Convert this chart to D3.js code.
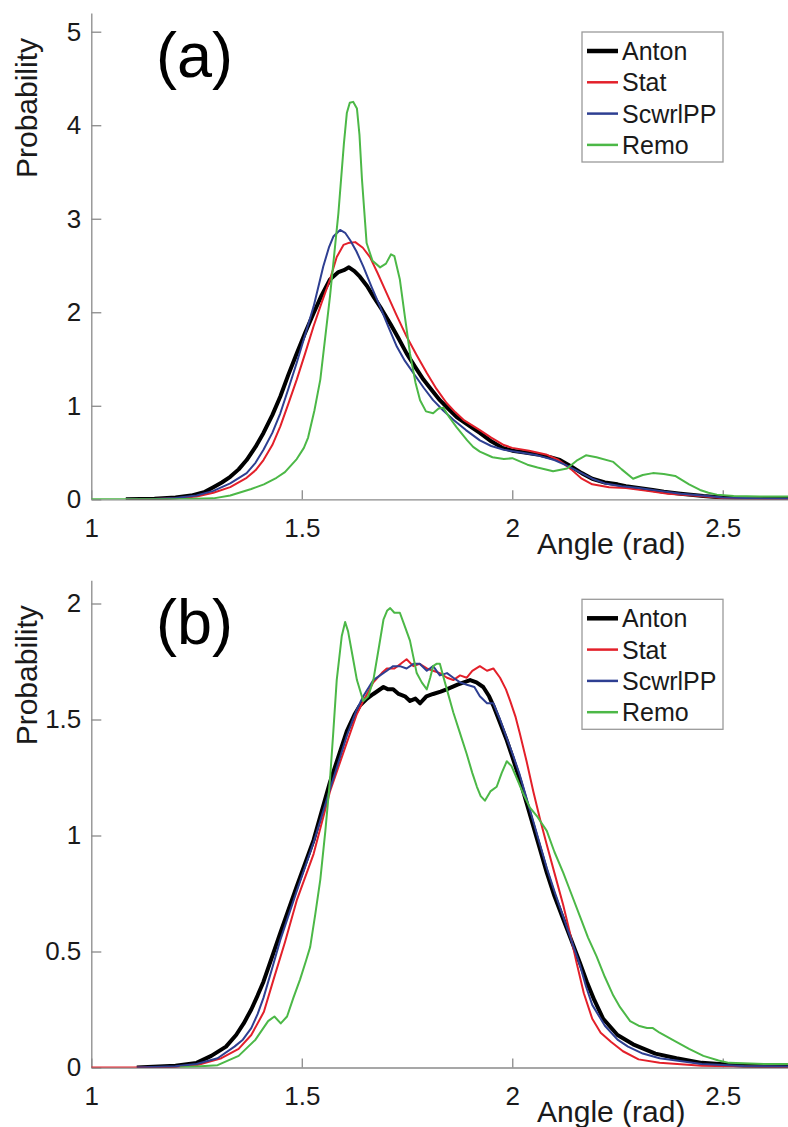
<!DOCTYPE html>
<html>
<head>
<meta charset="utf-8">
<script src="https://cdn.jsdelivr.net/npm/d3@7"></script>
<style>
  body { margin: 0; background: #fff; }
  svg { display: block; font-family: "Liberation Sans", Arial, sans-serif; }
</style>
</head>
<body>
<div id="chart"></div>
<script>
// series names + colours
const names = ["Anton", "Stat", "ScwrlPP", "Remo"]
const colors = ["#000000", "#e3202a", "#2e3f92", "#4cb847"]
const widths = [4, 2, 2, 2]

const xTicks = [1, 1.5, 2, 2.5]
const yTicksA = [0, 1, 2, 3, 4, 5]
const yTicksB = [0, 0.5, 1, 1.5, 2]

// panel (a) : [angle, probability]
const antonA = [[1.082,0],[1.15,0.005],[1.2,0.02],[1.237,0.04],[1.27,0.08],[1.29,0.13],[1.31,0.18],[1.33,0.24],[1.35,0.32],[1.369,0.42],[1.39,0.56],[1.409,0.71],[1.43,0.9],[1.449,1.10],[1.468,1.33],[1.488,1.56],[1.508,1.78],[1.528,1.99],[1.547,2.18],[1.567,2.35],[1.587,2.43],[1.600,2.45],[1.612,2.48],[1.625,2.44],[1.638,2.38],[1.655,2.28],[1.67,2.17],[1.69,2.03],[1.71,1.88],[1.73,1.72],[1.749,1.56],[1.77,1.41],[1.789,1.28],[1.81,1.16],[1.828,1.06],[1.85,0.96],[1.868,0.88],[1.9,0.78],[1.923,0.71],[1.95,0.62],[1.977,0.55],[2.0,0.52],[2.03,0.50],[2.06,0.48],[2.09,0.45],[2.113,0.42],[2.14,0.35],[2.165,0.28],[2.19,0.22],[2.22,0.18],[2.25,0.16],[2.27,0.14],[2.3,0.12],[2.334,0.10],[2.36,0.08],[2.4,0.06],[2.454,0.035],[2.5,0.02],[2.55,0.01],[2.6,0.005],[2.66,0.003]]
const statA = [[1.082,0],[1.15,0.003],[1.2,0.01],[1.25,0.03],[1.29,0.07],[1.33,0.13],[1.369,0.23],[1.39,0.31],[1.409,0.42],[1.43,0.58],[1.449,0.78],[1.468,1.02],[1.488,1.28],[1.508,1.56],[1.528,1.85],[1.547,2.10],[1.567,2.35],[1.583,2.59],[1.599,2.72],[1.61,2.74],[1.627,2.75],[1.645,2.69],[1.662,2.59],[1.68,2.42],[1.702,2.20],[1.725,1.97],[1.749,1.74],[1.773,1.54],[1.797,1.35],[1.82,1.18],[1.844,1.03],[1.865,0.93],[1.884,0.85],[1.923,0.74],[1.95,0.66],[1.98,0.58],[2.0,0.55],[2.04,0.52],[2.08,0.48],[2.11,0.42],[2.14,0.32],[2.165,0.22],[2.19,0.16],[2.23,0.13],[2.27,0.12],[2.32,0.09],[2.37,0.06],[2.43,0.04],[2.5,0.015],[2.58,0.005],[2.66,0.002]]
const scwrlA = [[1.082,0],[1.15,0.003],[1.2,0.015],[1.25,0.04],[1.29,0.09],[1.33,0.17],[1.369,0.28],[1.39,0.39],[1.409,0.53],[1.43,0.71],[1.449,0.92],[1.468,1.18],[1.488,1.46],[1.508,1.76],[1.528,2.06],[1.551,2.49],[1.565,2.70],[1.575,2.81],[1.591,2.88],[1.603,2.85],[1.615,2.77],[1.63,2.65],[1.646,2.49],[1.666,2.27],[1.686,2.06],[1.706,1.84],[1.726,1.63],[1.745,1.48],[1.765,1.35],[1.79,1.19],[1.812,1.06],[1.836,0.95],[1.86,0.85],[1.89,0.74],[1.923,0.63],[1.95,0.57],[1.98,0.53],[2.02,0.50],[2.06,0.47],[2.1,0.42],[2.13,0.36],[2.16,0.29],[2.19,0.22],[2.22,0.17],[2.26,0.14],[2.3,0.12],[2.35,0.09],[2.4,0.06],[2.45,0.04],[2.5,0.02],[2.58,0.01],[2.66,0.005]]
const remoA = [[1.0,0],[1.1,0],[1.2,0],[1.29,0.01],[1.33,0.04],[1.38,0.11],[1.41,0.16],[1.44,0.23],[1.46,0.29],[1.488,0.43],[1.505,0.55],[1.515,0.66],[1.53,0.95],[1.544,1.28],[1.567,2.17],[1.587,3.06],[1.6,3.8],[1.607,4.13],[1.614,4.24],[1.622,4.25],[1.631,4.18],[1.637,3.9],[1.643,3.42],[1.654,2.74],[1.668,2.55],[1.686,2.48],[1.70,2.52],[1.712,2.62],[1.72,2.6],[1.733,2.35],[1.745,1.95],[1.757,1.56],[1.77,1.25],[1.781,1.06],[1.795,0.94],[1.812,0.92],[1.825,0.97],[1.836,0.98],[1.85,0.88],[1.868,0.77],[1.893,0.63],[1.907,0.56],[1.923,0.51],[1.953,0.45],[1.98,0.43],[2.0,0.44],[2.036,0.37],[2.06,0.34],[2.097,0.30],[2.13,0.33],[2.155,0.42],[2.175,0.47],[2.2,0.45],[2.24,0.40],[2.26,0.32],[2.287,0.22],[2.31,0.26],[2.334,0.28],[2.36,0.27],[2.387,0.25],[2.42,0.16],[2.446,0.10],[2.466,0.07],[2.486,0.05],[2.526,0.035],[2.588,0.03],[2.66,0.03]]

// panel (b)
const antonB = [[1.108,0],[1.2,0.008],[1.25,0.02],[1.285,0.05],[1.32,0.09],[1.344,0.14],[1.362,0.19],[1.38,0.25],[1.395,0.31],[1.409,0.37],[1.43,0.48],[1.449,0.58],[1.488,0.78],[1.528,0.98],[1.567,1.23],[1.607,1.45],[1.625,1.52],[1.638,1.56],[1.655,1.59],[1.670,1.61],[1.694,1.64],[1.705,1.63],[1.717,1.63],[1.73,1.61],[1.745,1.60],[1.757,1.58],[1.77,1.59],[1.781,1.57],[1.796,1.60],[1.812,1.61],[1.83,1.62],[1.844,1.63],[1.87,1.65],[1.885,1.66],[1.900,1.67],[1.915,1.66],[1.931,1.64],[1.945,1.60],[1.955,1.56],[1.97,1.49],[1.987,1.41],[2.0,1.34],[2.018,1.24],[2.034,1.14],[2.050,1.04],[2.066,0.94],[2.082,0.84],[2.1,0.74],[2.121,0.64],[2.14,0.55],[2.161,0.45],[2.177,0.37],[2.195,0.29],[2.216,0.21],[2.25,0.14],[2.287,0.10],[2.34,0.06],[2.39,0.04],[2.45,0.02],[2.55,0.008],[2.66,0.004]]
const statB = [[1.0,0],[1.1,0],[1.2,0.003],[1.25,0.01],[1.309,0.04],[1.35,0.08],[1.38,0.14],[1.41,0.24],[1.433,0.38],[1.46,0.54],[1.488,0.72],[1.528,0.92],[1.567,1.19],[1.607,1.40],[1.63,1.52],[1.646,1.58],[1.670,1.66],[1.69,1.70],[1.702,1.72],[1.72,1.72],[1.735,1.74],[1.749,1.76],[1.765,1.73],[1.78,1.74],[1.797,1.72],[1.812,1.71],[1.828,1.70],[1.845,1.68],[1.860,1.67],[1.876,1.69],[1.892,1.68],[1.905,1.71],[1.923,1.73],[1.94,1.71],[1.955,1.72],[1.971,1.68],[1.985,1.63],[1.995,1.58],[2.008,1.51],[2.018,1.44],[2.034,1.32],[2.050,1.19],[2.066,1.07],[2.082,0.96],[2.1,0.84],[2.121,0.70],[2.137,0.58],[2.153,0.45],[2.17,0.32],[2.19,0.21],[2.21,0.15],[2.235,0.11],[2.263,0.07],[2.3,0.035],[2.35,0.02],[2.45,0.008],[2.55,0.004],[2.66,0.002]]
const scwrlB = [[1.108,0],[1.2,0.005],[1.25,0.015],[1.3,0.04],[1.34,0.09],[1.36,0.12],[1.38,0.17],[1.395,0.23],[1.409,0.3],[1.43,0.43],[1.449,0.55],[1.488,0.76],[1.528,0.97],[1.567,1.2],[1.607,1.43],[1.63,1.54],[1.646,1.60],[1.67,1.67],[1.686,1.69],[1.702,1.71],[1.717,1.73],[1.733,1.73],[1.749,1.72],[1.765,1.74],[1.78,1.74],[1.797,1.71],[1.812,1.73],[1.828,1.69],[1.845,1.70],[1.860,1.68],[1.876,1.66],[1.892,1.65],[1.91,1.64],[1.923,1.60],[1.94,1.57],[1.955,1.57],[1.971,1.50],[1.987,1.42],[2.003,1.34],[2.018,1.26],[2.034,1.16],[2.05,1.06],[2.066,0.96],[2.082,0.86],[2.1,0.76],[2.121,0.65],[2.14,0.55],[2.161,0.44],[2.175,0.35],[2.19,0.27],[2.22,0.18],[2.25,0.12],[2.275,0.09],[2.31,0.06],[2.35,0.04],[2.45,0.015],[2.55,0.007],[2.66,0.004]]
const remoB = [[1.21,0],[1.3,0.01],[1.35,0.05],[1.39,0.12],[1.42,0.2],[1.435,0.22],[1.45,0.19],[1.465,0.22],[1.48,0.3],[1.496,0.38],[1.51,0.46],[1.52,0.52],[1.532,0.66],[1.544,0.81],[1.556,1.02],[1.567,1.24],[1.575,1.45],[1.583,1.67],[1.595,1.86],[1.603,1.92],[1.61,1.88],[1.62,1.78],[1.631,1.67],[1.646,1.58],[1.658,1.6],[1.670,1.67],[1.684,1.82],[1.694,1.93],[1.703,1.97],[1.710,1.98],[1.72,1.96],[1.733,1.96],[1.745,1.90],[1.757,1.84],[1.765,1.77],[1.773,1.70],[1.785,1.66],[1.797,1.63],[1.805,1.68],[1.812,1.73],[1.82,1.74],[1.828,1.74],[1.84,1.66],[1.860,1.53],[1.876,1.44],[1.892,1.35],[1.905,1.27],[1.916,1.21],[1.925,1.17],[1.935,1.15],[1.948,1.19],[1.963,1.21],[1.975,1.27],[1.987,1.32],[1.998,1.30],[2.01,1.25],[2.026,1.18],[2.042,1.12],[2.06,1.08],[2.082,1.02],[2.1,0.93],[2.121,0.84],[2.14,0.75],[2.161,0.65],[2.18,0.56],[2.2,0.48],[2.22,0.39],[2.24,0.31],[2.256,0.26],[2.28,0.2],[2.3,0.18],[2.32,0.17],[2.334,0.17],[2.35,0.15],[2.38,0.12],[2.42,0.08],[2.454,0.05],[2.49,0.03],[2.515,0.02],[2.6,0.015],[2.66,0.015]]

const W = 788, H = 1127

const svg = d3.select("#chart").append("svg")
  .attr("width", W)
  .attr("height", H)

// x is shared by both panels
const x = d3.scaleLinear().domain([1, 2.655]).range([91.3, 788])

const panels = [
  {id: "a", label: "(a)", series: [antonA, statA, scwrlA, remoA], ymax: 5.2, ticks: yTicksA, top: 13, base: 499.3},
  {id: "b", label: "(b)", series: [antonB, statB, scwrlB, remoB], ymax: 2.1, ticks: yTicksB, top: 580.3, base: 1067.5}
]

panels.forEach(function(p) {
  const y = d3.scaleLinear().domain([0, p.ymax]).range([p.base, p.top])
  const g = svg.append("g").attr("id", "panel_" + p.id)

  g.append("clipPath").attr("id", "clip_" + p.id)
    .append("rect")
    .attr("x", x.range()[0]).attr("y", p.top - 5)
    .attr("width", x.range()[1] - x.range()[0]).attr("height", p.base - p.top + 5)

  // axes
  const xAxis = g.append("g")
    .attr("transform", "translate(0," + p.base + ")")
    .call(d3.axisBottom(x).tickValues(xTicks).tickFormat(d3.format("")).tickSize(-9).tickSizeOuter(0).tickPadding(19))
  const yAxis = g.append("g")
    .attr("transform", "translate(" + x.range()[0] + ",0)")
    .call(d3.axisLeft(y).tickValues(p.ticks).tickFormat(d3.format("")).tickSize(-10).tickSizeOuter(0).tickPadding(10))

  ;[xAxis, yAxis].forEach(function(a) {
    a.select(".domain").attr("stroke", "#8a8a8a").attr("stroke-width", 1.3)
    a.selectAll(".tick line").attr("stroke", "#8a8a8a").attr("stroke-width", 1.3)
    a.selectAll(".tick text").attr("fill", "#1a1a1a").style("font-size", "26px")
      .style("font-family", "'Liberation Sans', Arial, sans-serif")
  })

  // curves
  const line = d3.line().x(d => x(d[0])).y(d => y(d[1]))
  g.append("g").attr("clip-path", "url(#clip_" + p.id + ")")
    .selectAll("path")
    .data(p.series)
    .join("path")
      .attr("d", line)
      .attr("fill", "none")
      .attr("stroke", (d, i) => colors[i])
      .attr("stroke-width", (d, i) => widths[i])
      .attr("stroke-linejoin", "round")

  // labels
  g.append("text")
    .attr("transform", "translate(37," + (p.top + 95) + ") rotate(-90)")
    .attr("text-anchor", "middle")
    .style("font-size", "30px")
    .attr("fill", "#1a1a1a")
    .text("Probability")

  g.append("text")
    .attr("x", 537).attr("y", p.base + 54.3)
    .style("font-size", "30px")
    .attr("fill", "#1a1a1a")
    .text("Angle (rad)")

  g.append("text")
    .attr("x", 156).attr("y", p.top + 63.8)
    .style("font-size", "63px")
    .attr("fill", "#000")
    .text(p.label)

  // legend
  const lg = g.append("g").attr("transform", "translate(582," + (p.top + 19) + ")")
  lg.append("rect")
    .attr("width", 141).attr("height", 130)
    .attr("fill", "#fff").attr("stroke", "#9a9a9a").attr("stroke-width", 1.3)
  const rows = lg.selectAll("g.row").data(names).join("g")
    .attr("class", "row")
    .attr("transform", (d, i) => "translate(0," + (19 + i * 31.3) + ")")
  rows.append("line")
    .attr("x1", 5).attr("x2", 36).attr("y1", 0).attr("y2", 0)
    .attr("stroke", (d, i) => colors[i])
    .attr("stroke-width", (d, i) => widths[i] + 0.5)
  rows.append("text")
    .attr("x", 40).attr("y", 9)
    .style("font-size", "25px")
    .attr("fill", "#1a1a1a")
    .text(d => d)
})
</script>
</body>
</html>
